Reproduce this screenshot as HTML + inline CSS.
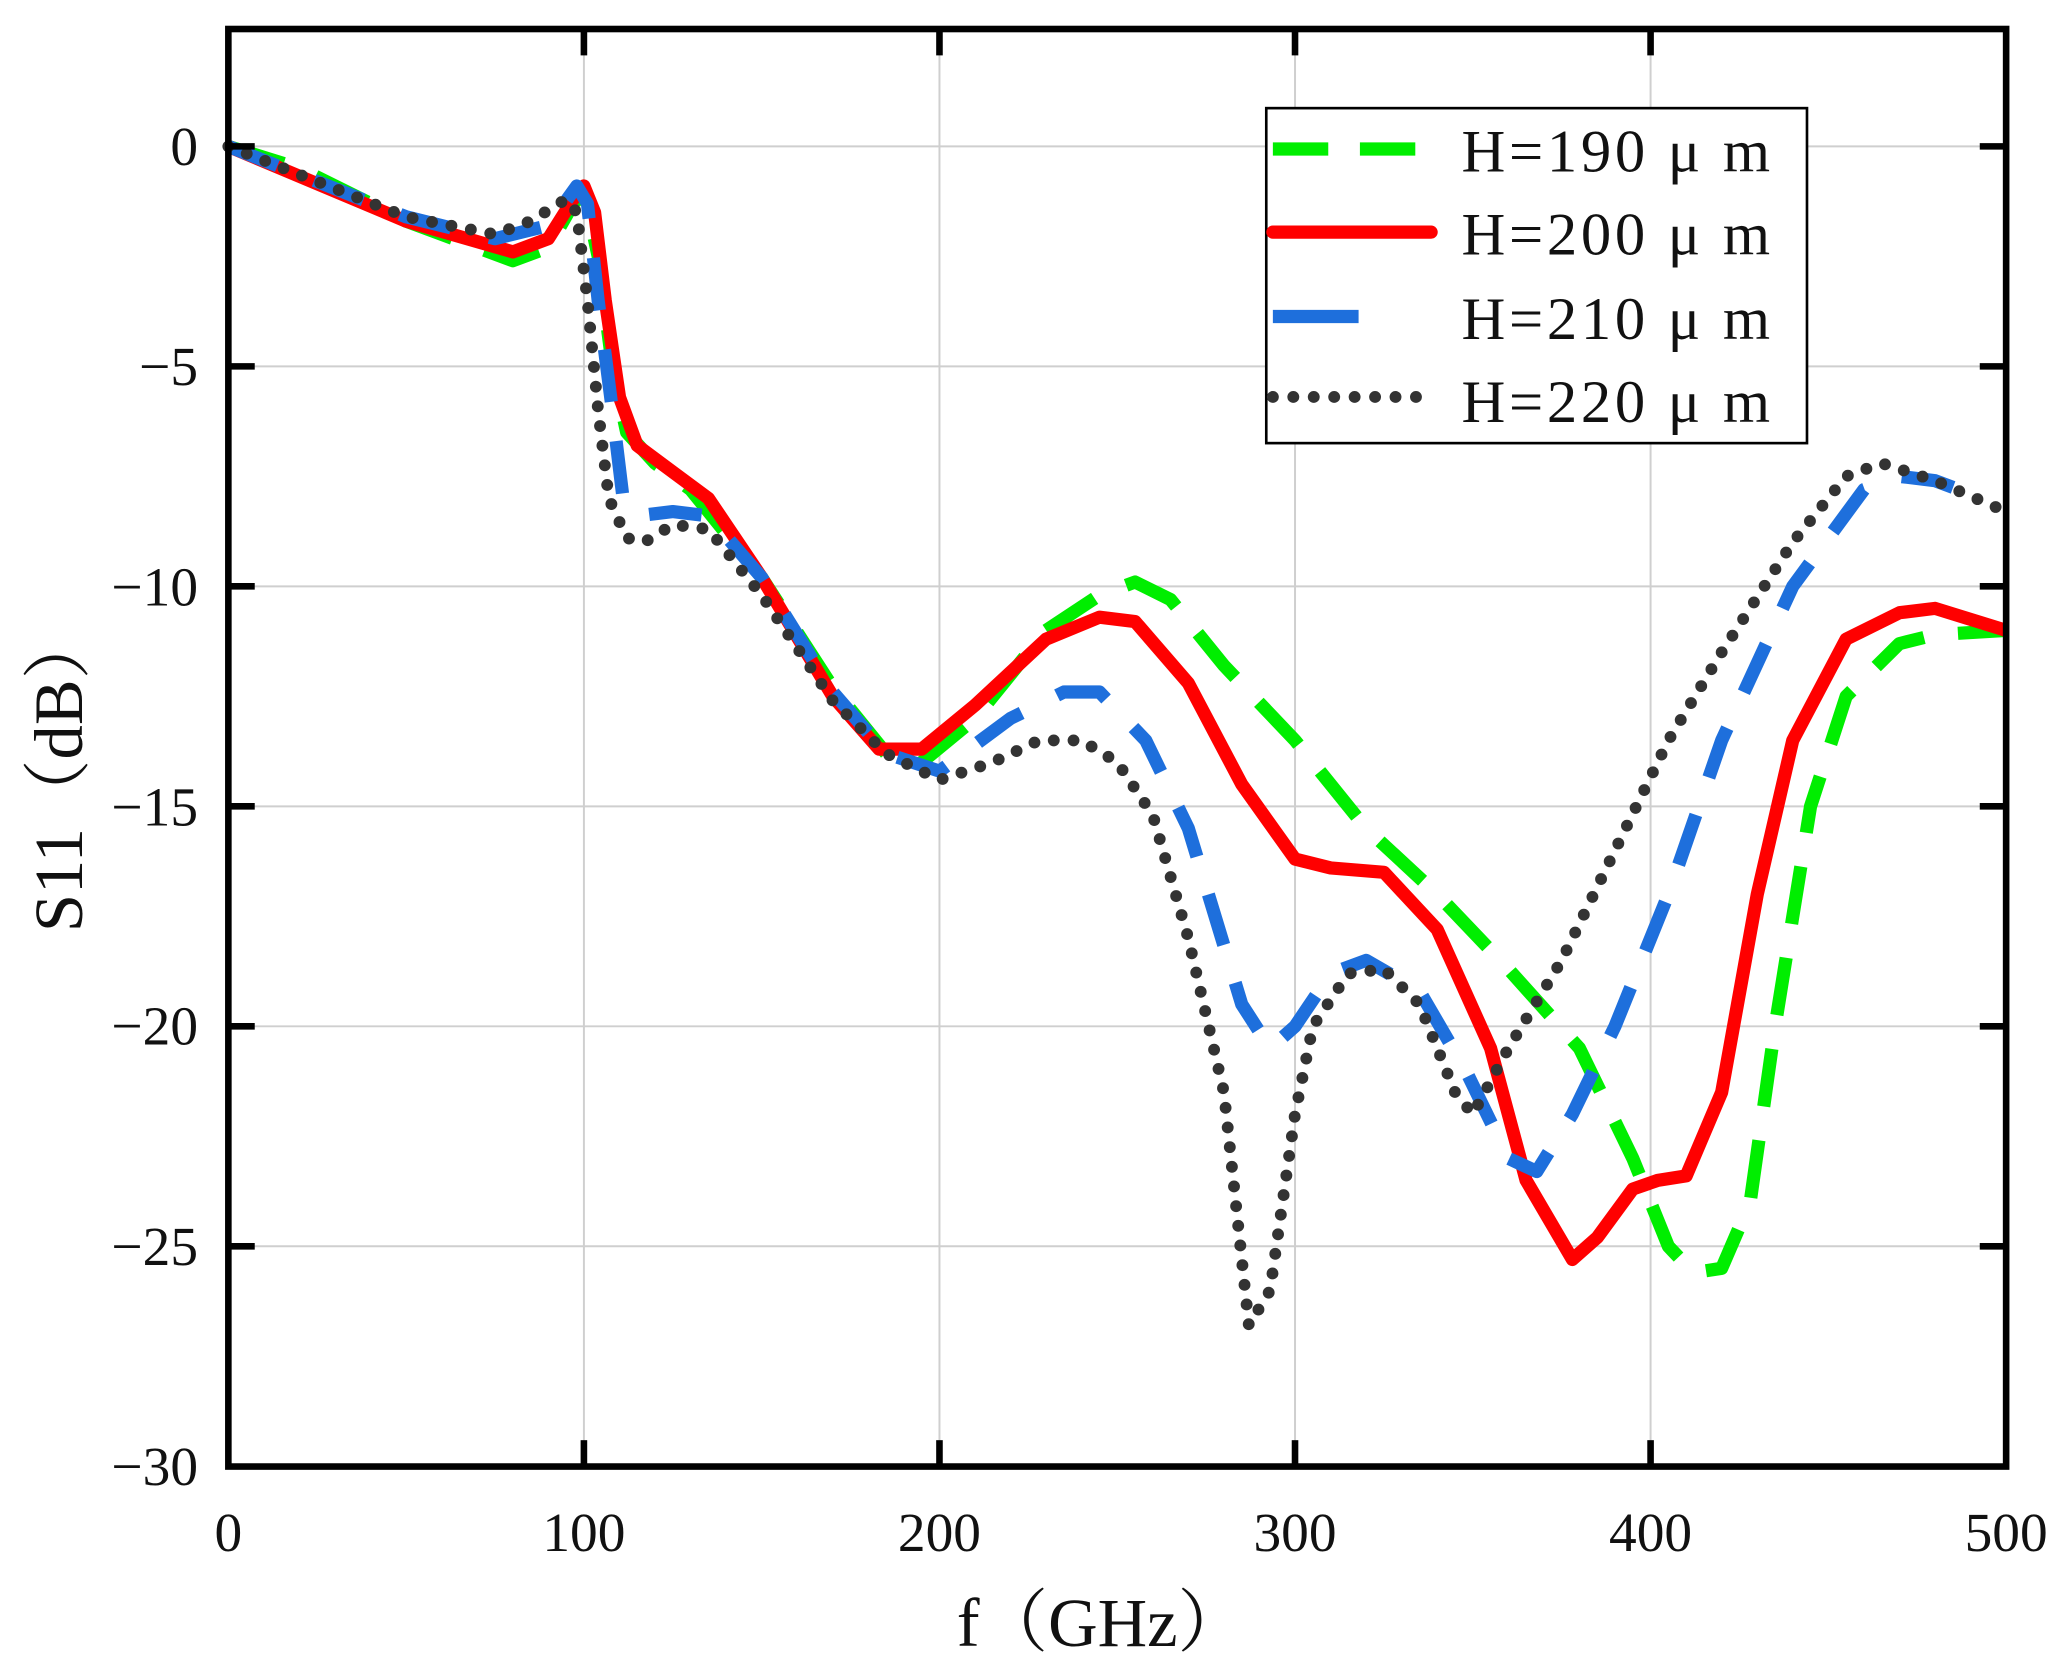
<!DOCTYPE html>
<html><head><meta charset="utf-8"><style>html,body{margin:0;padding:0;background:#fff}svg{display:block}</style></head>
<body>
<svg xmlns="http://www.w3.org/2000/svg" width="2067" height="1667" viewBox="0 0 1567 1264">
<rect width="1567" height="1264" fill="#fff"/>
<g stroke="#cfcfcf" stroke-width="1.5">
<line x1="442.6" y1="22" x2="442.6" y2="1112"/><line x1="712.2" y1="22" x2="712.2" y2="1112"/><line x1="981.8" y1="22" x2="981.8" y2="1112"/><line x1="1251.4" y1="22" x2="1251.4" y2="1112"/>
<line x1="173" y1="111" x2="1521" y2="111"/><line x1="173" y1="277.8" x2="1521" y2="277.8"/><line x1="173" y1="444.6" x2="1521" y2="444.6"/><line x1="173" y1="611.4" x2="1521" y2="611.4"/><line x1="173" y1="778.2" x2="1521" y2="778.2"/><line x1="173" y1="945" x2="1521" y2="945"/>
</g>
<g fill="none" stroke-linejoin="round">
<polyline stroke="#00ee00" stroke-width="10" stroke-dasharray="44 26" points="173,111 226.9,127.7 307.8,167.7 388.7,197.7 415.6,187.7 434.5,154.4 442.6,144.4 453.4,194.4 464.2,277.8 475,327.8 496.5,351.2 523.5,371.2 577.4,437.9 631.3,521.3 671.8,571.4 698.7,578 739.2,544.7 793.1,478 833.5,451.3 860.5,441.3 887.4,454.6 927.9,504.6 981.8,561.4 1035.7,628.1 1089.6,678.1 1143.6,734.8 1197.5,794.9 1237.9,878.3 1264.9,945 1283.8,965 1305.3,961.7 1326.9,911.6 1345.8,778.2 1372.7,611.4 1399.7,528 1440.1,488 1467.1,481.3 1521,478"/>
<polyline stroke="#ff0000" stroke-width="10" points="173,111 307.8,167.7 388.7,191 415.6,181 434.5,151 442.6,141 450.7,161 458.8,227.8 469.6,301.2 483,337.8 510,357.9 537,377.9 577.4,437.9 631.3,528 666.4,568 698.7,568 739.2,534.7 793.1,484.6 833.5,468 860.5,471.3 900.9,518 941.4,594.7 981.8,651.4 1008.8,658.1 1049.2,661.4 1089.6,704.8 1130.1,794.9 1157,895 1192.1,955 1211,938.3 1237.9,901.6 1256.8,895 1278.4,891.6 1305.3,828.2 1332.3,678.1 1359.2,561.4 1399.7,484.6 1440.1,464.6 1467.1,461.3 1521,478"/>
<polyline stroke="#1e6fdc" stroke-width="10" stroke-dasharray="40 30" points="173,111 307.8,164.4 375.2,181 415.6,171 437.2,141 445.3,154.4 453.4,227.8 464.2,311.2 472.3,377.9 483,391.2 510,387.9 537,391.2 577.4,437.9 631.3,524.7 671.8,571.4 712.2,584.7 766.1,544.7 806.6,524.7 833.5,524.7 868.6,561.4 900.9,628.1 941.4,761.5 962.9,794.9 981.8,778.2 1008.8,738.2 1035.7,728.2 1076.2,751.5 1111.2,811.6 1143.6,878.3 1165.1,888.3 1192.1,844.9 1224.4,778.2 1264.9,678.1 1305.3,561.4 1359.2,444.6 1413.2,371.2 1440.1,361.2 1467.1,364.5 1494,374.5"/>
<polyline stroke="#333" stroke-width="9" stroke-linecap="round" stroke-dasharray="0 15" points="173,111 307.8,164.4 375.2,177.7 402.2,167.7 429.1,151 437.2,161 445.3,227.8 453.4,311.2 461.5,377.9 475,407.9 488.4,411.2 510,397.9 537,401.2 577.4,451.3 631.3,531.3 671.8,571.4 712.2,591.4 752.6,578 787.7,561.4 820,561.4 847,578 874,618.1 900.9,711.5 927.9,828.2 946.8,1005 962.9,978.4 981.8,844.9 995.3,778.2 1022.2,738.2 1049.2,734.8 1076.2,761.5 1103.1,828.2 1116.6,844.9 1143.6,794.9 1184,728.2 1224.4,644.8 1264.9,561.4 1305.3,494.6 1359.2,411.2 1399.7,361.2 1426.6,351.2 1467.1,364.5 1521,387.9"/>
</g>
<rect x="173" y="22" width="1348" height="1090" fill="none" stroke="#000" stroke-width="5"/>
<g stroke="#000" stroke-width="5">
<line x1="442.6" y1="1112" x2="442.6" y2="1092"/><line x1="712.2" y1="1112" x2="712.2" y2="1092"/><line x1="981.8" y1="1112" x2="981.8" y2="1092"/><line x1="1251.4" y1="1112" x2="1251.4" y2="1092"/>
<line x1="442.6" y1="22" x2="442.6" y2="42"/><line x1="712.2" y1="22" x2="712.2" y2="42"/><line x1="981.8" y1="22" x2="981.8" y2="42"/><line x1="1251.4" y1="22" x2="1251.4" y2="42"/>
<line x1="173" y1="111" x2="193" y2="111"/><line x1="173" y1="277.8" x2="193" y2="277.8"/><line x1="173" y1="444.6" x2="193" y2="444.6"/><line x1="173" y1="611.4" x2="193" y2="611.4"/><line x1="173" y1="778.2" x2="193" y2="778.2"/><line x1="173" y1="945" x2="193" y2="945"/>
<line x1="1521" y1="111" x2="1501" y2="111"/><line x1="1521" y1="277.8" x2="1501" y2="277.8"/><line x1="1521" y1="444.6" x2="1501" y2="444.6"/><line x1="1521" y1="611.4" x2="1501" y2="611.4"/><line x1="1521" y1="778.2" x2="1501" y2="778.2"/><line x1="1521" y1="945" x2="1501" y2="945"/>
</g>
<g font-family="Liberation Serif, serif" font-size="42" fill="#111">
<g text-anchor="middle">
<text x="173" y="1176">0</text><text x="442.6" y="1176">100</text><text x="712.2" y="1176">200</text><text x="981.8" y="1176">300</text><text x="1251.4" y="1176">400</text><text x="1521" y="1176">500</text>
</g>
<g text-anchor="end">
<text x="150" y="125">0</text><text x="150" y="292">−5</text><text x="150" y="459">−10</text><text x="150" y="626">−15</text><text x="150" y="792">−20</text><text x="150" y="959">−25</text><text x="150" y="1126">−30</text>
</g>
</g>
<text x="835" y="1248" text-anchor="middle" font-family="Liberation Serif, 'Noto Serif CJK SC', serif" font-size="52" fill="#111">f（GHz）</text>
<text transform="translate(62,585) rotate(-90)" text-anchor="middle" font-family="Liberation Serif, 'Noto Serif CJK SC', serif" font-size="52" fill="#111">S11（dB）</text>
<rect x="960" y="82" width="410" height="254" fill="#fff" stroke="#000" stroke-width="2"/>
<g font-family="Liberation Serif, serif" font-size="46" fill="#111">
<line x1="965" y1="113" x2="1078" y2="113" stroke="#00ee00" stroke-width="10" stroke-dasharray="42 24"/>
<text x="1108" y="130" textLength="234">H=190 μ m</text>
<line x1="965" y1="176" x2="1085" y2="176" stroke="#ff0000" stroke-width="10" stroke-linecap="round"/>
<text x="1108" y="193" textLength="234">H=200 μ m</text>
<line x1="965" y1="240" x2="1030" y2="240" stroke="#1e6fdc" stroke-width="10"/>
<text x="1108" y="257" textLength="234">H=210 μ m</text>
<line x1="965" y1="301" x2="1078" y2="301" stroke="#333" stroke-width="9" stroke-linecap="round" stroke-dasharray="0 15.5"/>
<text x="1108" y="320" textLength="234">H=220 μ m</text>
</g>
</svg>
</body></html>
